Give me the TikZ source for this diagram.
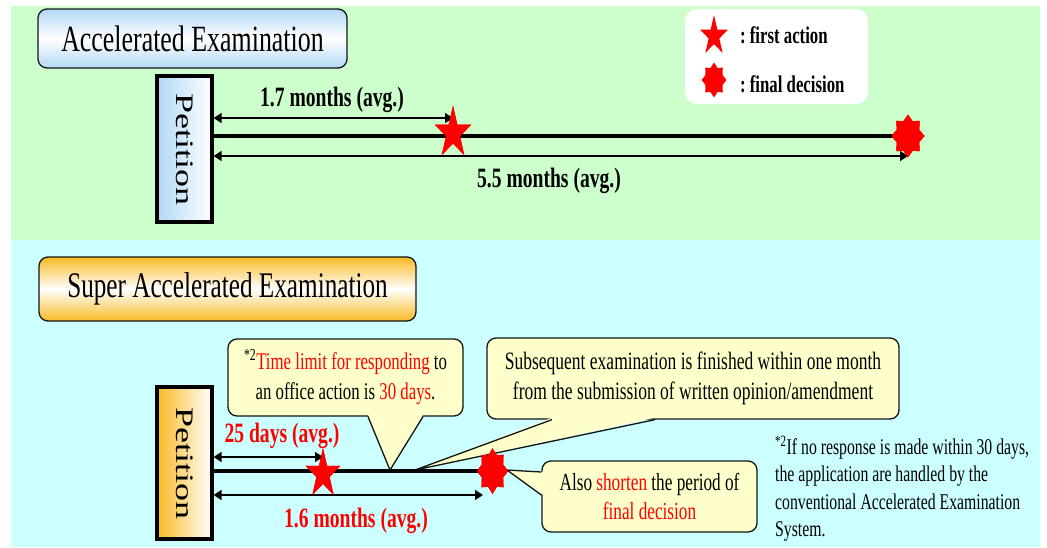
\documentclass[tikz,border=0pt]{standalone}
\usepackage{fontspec}
\setmainfont{Liberation Serif}[FakeStretch=0.7]
\newfontfamily\petitionfont{Liberation Serif}
\usetikzlibrary{shapes.geometric,arrows.meta,calc}

\definecolor{bggreen}{RGB}{204,255,204}
\definecolor{bgcyan}{RGB}{204,255,255}
\definecolor{noteyellow}{RGB}{255,255,204}
\definecolor{skyblue}{RGB}{178,216,246}
\definecolor{amber}{RGB}{248,186,36}
\definecolor{alertred}{RGB}{255,0,0}
\definecolor{inkline}{RGB}{20,20,20}

\newcommand{\fsz}[2]{\fontsize{#1}{#2}\selectfont}
\newcommand{\hl}[1]{\textcolor{alertred}{#1}}

\begin{document}
\begin{tikzpicture}[x=1pt,y=-1pt,
  titlebox/.style={draw=inkline, line width=1.3pt, rounded corners=9pt, inner sep=0pt},
  petbox/.style={draw=black, line width=3.2pt, inner sep=0pt},
  callout/.style={draw=inkline, line width=1.3pt, fill=noteyellow, rounded corners=9pt,
                  inner sep=0pt, align=center},
  callline/.style={draw=inkline, line width=1.3pt, line join=miter},
  mainline/.style={line width=4.5pt},
  dimarrow/.style={line width=1.5pt,
                   {Triangle[length=8pt,width=10pt]}-{Triangle[length=8pt,width=10pt]}},
  firstaction/.style={star, star points=5, star point ratio=2.618, fill=alertred,
                      inner sep=0pt, xscale=0.7},
  finaldecision/.style={star, star points=8, star point ratio=1.35, fill=alertred,
                        inner sep=0pt},
  spanlabel/.style={font=\bfseries\fsz{28}{32}, anchor=base},
]
\useasboundingbox (0,0) rectangle (1047,547);
\fill[white] (0,0) rectangle (1047,547);
\fill[bggreen] (11,6) rectangle (1040,240);
\fill[bgcyan] (11,240) rectangle (1040,547);

% ---------- Accelerated Examination ----------
\node[titlebox, top color=skyblue, bottom color=skyblue, middle color=white,
      minimum width=309, minimum height=59] (acc) at (192.5,38.5)
      {\fsz{37}{44}Accelerated Examination};

\node[fill=white, rounded corners=12pt, minimum width=183, minimum height=95] (legend) at (776.5,56.5) {};
\node[firstaction, minimum size=42] (lgfa) at (714,36) {};
\node[finaldecision, minimum size=35, xscale=0.71] (lgfd) at (714,80) {};
\node[anchor=base west, inner sep=0pt, font=\bfseries\fsz{24}{28}] (lgfatext) at (740,43) {:\,first action};
\node[anchor=base west, inner sep=0pt, font=\bfseries\fsz{24}{28}] (lgfdtext) at (740,92) {:\,final decision};

\node[petbox, left color=skyblue, right color=white, minimum width=55, minimum height=146] (pet1) at (184.5,149) {};
\node[rotate=-90, inner sep=0pt] (pet1text) at (pet1.center)
      {\scalebox{1}[0.7]{\petitionfont\fsz{36}{40}Petition}};

\node[firstaction, minimum size=55] (fa1) at (453,133) {};
\node[finaldecision, minimum size=43, xscale=0.77] (fd1) at (908,136) {};

\draw[mainline] (pet1.east |- fd1.center) -- (fd1.center);
\draw[dimarrow] (pet1.east |- 0,118) -- (fa1.center |- 0,118);
\draw[dimarrow] (pet1.east |- 0,156) -- (fd1.center |- 0,156);
\node[firstaction, minimum size=55] at (fa1.center) {};
\node[finaldecision, minimum size=43, xscale=0.77] at (fd1.center) {};

\node[spanlabel] (lbl17) at (332,106) {1.7 months (avg.)};
\node[spanlabel] (lbl55) at (549,187) {5.5 months (avg.)};

% ---------- Super Accelerated Examination ----------
\node[titlebox, top color=amber, bottom color=amber, middle color=white,
      minimum width=377, minimum height=64] (sacc) at (227.5,289)
      {\fsz{36}{44}Super Accelerated Examination};

\node[petbox, left color=amber, right color=white, minimum width=55, minimum height=152] (pet2) at (184.5,463) {};
\node[rotate=-90, inner sep=0pt] (pet2text) at (pet2.center)
      {\scalebox{1}[0.7]{\petitionfont\fsz{36}{40}Petition}};

\node[firstaction, minimum size=52] (fa2) at (323,474) {};
\node[finaldecision, minimum size=46, xscale=0.68] (fd2) at (492.5,471) {};

% callout boxes
\node[callout, minimum width=235, minimum height=77, font=\fsz{24}{30}] (c1) at (345.5,377.5)
  {\textsuperscript{*2}\hl{Time limit for responding} to\\an office action is \hl{30 days}.};
\node[callout, minimum width=412, minimum height=81, font=\fsz{25}{30}] (c2) at (693,378.5)
  {Subsequent examination is finished within one month\\from the submission of written opinion/amendment};
\node[callout, minimum width=215, minimum height=71, font=\fsz{24.6}{29}] (c3) at (649.5,496.5)
  {Also \hl{shorten} the period of\\\hl{final decision}};

\coordinate (tip1) at (390,470);
\coordinate (tip2) at (415,470);
\coordinate (tip3) at (507,470);

% callout pointers
\fill[noteyellow] ($(c1.south)+(22.5,-2)$) -- (tip1) -- ($(c1.south)+(77.5,-2)$) -- cycle;
\draw[callline] ($(c1.south)+(22.5,0)$) -- (tip1) -- ($(c1.south)+(77.5,0)$);
\fill[noteyellow] ($(c2.south)+(-141,-2)$) -- (tip2) -- ($(c2.south)+(-38,-2)$) -- cycle;
\draw[callline] ($(c2.south)+(-141,0)$) -- (tip2) -- ($(c2.south)+(-38,0)$);
\fill[noteyellow] ($(c3.west)+(2,-24.5)$) -- (tip3) -- ($(c3.west)+(2,-1.5)$) -- cycle;
\draw[callline] ($(c3.west)+(0,-24.5)$) -- (tip3) -- ($(c3.west)+(0,-1.5)$);

% time lines
\draw[mainline] (pet2.east |- fd2.center) -- (fd2.center);
\draw[dimarrow] (pet2.east |- 0,457) -- (fa2.center |- 0,457);
\draw[dimarrow] (pet2.east |- 0,495) -- ($(fd2.center |- 0,495)+(-9.5,0)$);
\node[firstaction, minimum size=52] at (fa2.center) {};
\node[finaldecision, minimum size=46, xscale=0.68] at (fd2.center) {};

\node[spanlabel, text=alertred] (lbl25) at (282,442) {25 days (avg.)};
\node[spanlabel, text=alertred] (lbl16) at (356,527) {1.6 months (avg.)};

% footnote
\node[anchor=north west, inner sep=0pt, align=left, font=\fsz{22.5}{27.5}] (note) at (775,436)
  {\textsuperscript{*2}If no response is made within 30 days,\\
   the application are handled by the\\
   conventional Accelerated Examination\\
   System.};
\end{tikzpicture}
\end{document}
